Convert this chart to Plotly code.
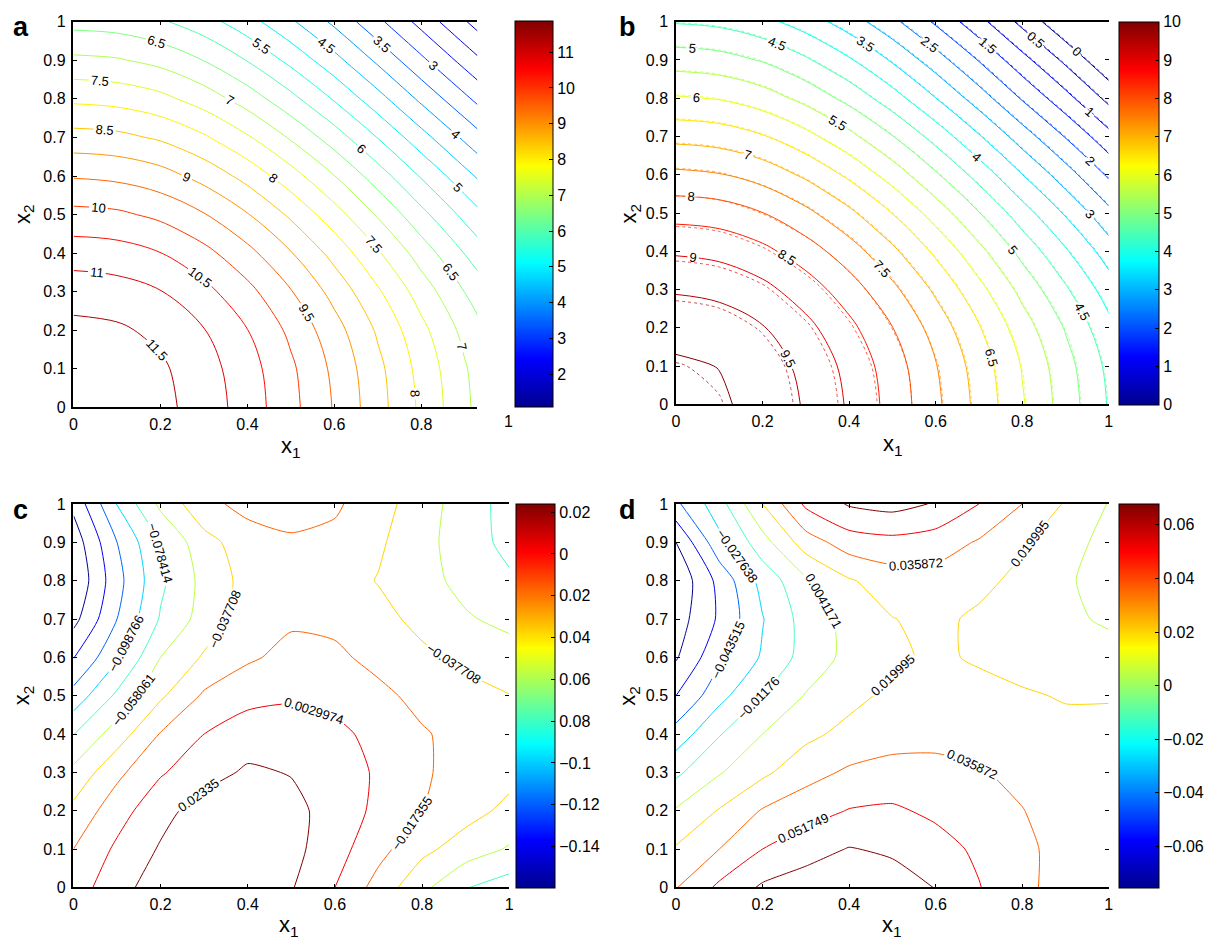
import plotly.graph_objects as go

W, H = 1220, 949
FONT = "Liberation Sans, Arial, Helvetica, sans-serif"

# ---------------------------------------------------------------- data
# sample nodes on the unit square (columns: x1, rows: x2)
x1_nodes = [0.0, 0.1, 0.2, 0.3, 0.4, 0.5, 0.6, 0.7, 0.8, 0.9, 1.0]
x2_nodes = [0.0, 0.1, 0.2, 0.3, 0.4, 0.5, 0.6, 0.7, 0.8, 0.9, 1.0]

z_a = [
    [11.90, 11.84, 11.64, 11.28, 10.77, 10.15, 9.46, 8.69, 7.90, 7.11, 6.33],
    [11.84, 11.77, 11.58, 11.21, 10.71, 10.09, 9.39, 8.63, 7.83, 7.05, 6.27],
    [11.64, 11.58, 11.38, 11.02, 10.51, 9.89, 9.20, 8.43, 7.64, 6.85, 6.07],
    [11.28, 11.21, 11.02, 10.65, 10.15, 9.53, 8.83, 8.07, 7.27, 6.49, 5.71],
    [10.77, 10.71, 10.51, 10.15, 9.65, 9.03, 8.33, 7.56, 6.77, 5.98, 5.20],
    [10.15, 10.09, 9.89, 9.53, 9.03, 8.41, 7.71, 6.94, 6.15, 5.36, 4.58],
    [9.46, 9.39, 9.20, 8.83, 8.33, 7.71, 7.01, 6.25, 5.45, 4.67, 3.89],
    [8.69, 8.63, 8.43, 8.07, 7.56, 6.94, 6.25, 5.48, 4.69, 3.90, 3.12],
    [7.90, 7.83, 7.64, 7.27, 6.77, 6.15, 5.45, 4.69, 3.89, 3.11, 2.33],
    [7.11, 7.05, 6.85, 6.49, 5.98, 5.36, 4.67, 3.90, 3.11, 2.32, 1.54],
    [6.33, 6.27, 6.07, 5.71, 5.20, 4.58, 3.89, 3.12, 2.33, 1.54, 0.76],
]

z_b = [
    [10.15, 10.07, 9.84, 9.45, 8.94, 8.32, 7.61, 6.85, 6.05, 5.27, 4.46],
    [10.07, 9.99, 9.76, 9.37, 8.86, 8.25, 7.53, 6.77, 5.97, 5.19, 4.38],
    [9.84, 9.76, 9.53, 9.14, 8.63, 8.01, 7.30, 6.54, 5.74, 4.96, 4.15],
    [9.45, 9.37, 9.14, 8.75, 8.24, 7.62, 6.91, 6.15, 5.35, 4.57, 3.76],
    [8.94, 8.86, 8.63, 8.24, 7.73, 7.11, 6.40, 5.64, 4.84, 4.06, 3.25],
    [8.32, 8.25, 8.01, 7.62, 7.11, 6.49, 5.78, 5.02, 4.22, 3.44, 2.63],
    [7.61, 7.53, 7.30, 6.91, 6.40, 5.78, 5.07, 4.31, 3.51, 2.73, 1.92],
    [6.85, 6.77, 6.54, 6.15, 5.64, 5.02, 4.31, 3.55, 2.75, 1.97, 1.16],
    [6.05, 5.97, 5.74, 5.35, 4.84, 4.22, 3.51, 2.75, 1.95, 1.17, 0.36],
    [5.27, 5.19, 4.96, 4.57, 4.06, 3.44, 2.73, 1.97, 1.17, 0.39, -0.42],
    [4.46, 4.38, 4.15, 3.76, 3.25, 2.63, 1.92, 1.16, 0.36, -0.42, -1.23],
]

# companion field of panel b, drawn dotted
z_b_ref = [
    [10.10, 10.02, 9.79, 9.38, 8.87, 8.30, 7.63, 6.87, 6.07, 5.29, 4.48],
    [10.02, 9.94, 9.71, 9.30, 8.79, 8.23, 7.55, 6.79, 5.99, 5.21, 4.40],
    [9.79, 9.71, 9.46, 9.07, 8.56, 7.99, 7.32, 6.56, 5.76, 4.98, 4.17],
    [9.38, 9.30, 9.07, 8.68, 8.22, 7.64, 6.93, 6.17, 5.37, 4.59, 3.78],
    [8.87, 8.79, 8.56, 8.22, 7.75, 7.13, 6.42, 5.66, 4.86, 4.08, 3.27],
    [8.30, 8.23, 7.99, 7.64, 7.13, 6.51, 5.80, 5.04, 4.24, 3.46, 2.65],
    [7.63, 7.55, 7.32, 6.93, 6.42, 5.80, 5.09, 4.33, 3.53, 2.75, 1.94],
    [6.87, 6.79, 6.56, 6.17, 5.66, 5.04, 4.33, 3.57, 2.77, 1.99, 1.18],
    [6.07, 5.99, 5.76, 5.37, 4.86, 4.24, 3.53, 2.77, 1.97, 1.19, 0.38],
    [5.29, 5.21, 4.98, 4.59, 4.08, 3.46, 2.75, 1.99, 1.19, 0.41, -0.40],
    [4.48, 4.40, 4.17, 3.78, 3.27, 2.65, 1.94, 1.18, 0.38, -0.40, -1.21],
]

z_c = [
    [-0.00514, 0.01318, 0.03760, 0.04066, 0.03760, 0.02478, 0.00300, -0.02529, -0.05297, -0.07739, -0.08858],
    [-0.01735, 0.00667, 0.02539, 0.03557, 0.03557, 0.02946, 0.01115, -0.01063, -0.03241, -0.04747, -0.06009],
    [-0.03221, -0.00554, 0.01664, 0.03252, 0.03353, 0.02946, 0.01461, -0.00168, -0.01725, -0.03017, -0.04279],
    [-0.05276, -0.02223, 0.00097, 0.01522, 0.02641, 0.02234, 0.01216, 0.00056, -0.01531, -0.02346, -0.03160],
    [-0.07902, -0.04808, -0.01613, 0.00300, 0.01318, 0.01420, 0.00911, -0.00453, -0.01531, -0.02447, -0.02956],
    [-0.11179, -0.07434, -0.04096, -0.01430, -0.00310, -0.00005, -0.00514, -0.01226, -0.02346, -0.03160, -0.03709],
    [-0.14049, -0.10161, -0.05806, -0.03526, -0.02040, -0.01124, -0.01328, -0.02346, -0.03363, -0.04177, -0.04991],
    [-0.16633, -0.11911, -0.07637, -0.04951, -0.02753, -0.02040, -0.02244, -0.03160, -0.04320, -0.05602, -0.06314],
    [-0.17814, -0.12603, -0.08248, -0.05154, -0.03058, -0.02651, -0.02854, -0.03872, -0.05154, -0.06375, -0.07535],
    [-0.17163, -0.11911, -0.07739, -0.04503, -0.02651, -0.02040, -0.02244, -0.03465, -0.05154, -0.06843, -0.08431],
    [-0.15473, -0.09774, -0.05337, -0.02284, -0.01124, -0.00819, -0.01430, -0.02936, -0.04890, -0.06803, -0.08614],
]

z_d = [
    [0.03508, 0.05492, 0.07001, 0.07556, 0.07715, 0.07477, 0.06715, 0.05254, 0.03825, 0.03190, 0.02793],
    [0.02158, 0.03587, 0.05175, 0.06127, 0.06842, 0.06524, 0.05810, 0.04873, 0.03889, 0.03111, 0.02714],
    [0.00570, 0.02110, 0.03714, 0.04492, 0.05254, 0.05413, 0.04857, 0.04301, 0.03635, 0.02873, 0.02555],
    [-0.01494, 0.00285, 0.01666, 0.03031, 0.03825, 0.04143, 0.04063, 0.03714, 0.03190, 0.02714, 0.02396],
    [-0.03717, -0.01287, 0.00412, 0.01602, 0.02476, 0.02952, 0.03111, 0.03031, 0.02793, 0.02476, 0.02317],
    [-0.05939, -0.03288, -0.01113, 0.00507, 0.01507, 0.02396, 0.02714, 0.02634, 0.02190, 0.01872, 0.01920],
    [-0.07686, -0.04669, -0.02573, -0.00541, 0.00856, 0.01682, 0.02317, 0.01761, 0.01364, 0.01126, 0.01047],
    [-0.08321, -0.05701, -0.02843, -0.00509, 0.00920, 0.01952, 0.02396, 0.01682, 0.01205, 0.00729, 0.00173],
    [-0.08797, -0.05463, -0.02192, 0.00142, 0.01841, 0.02793, 0.02952, 0.02476, 0.01523, 0.00618, -0.00224],
    [-0.07530, -0.03240, -0.00224, 0.02793, 0.04381, 0.04698, 0.04381, 0.03428, 0.02237, 0.00983, -0.00065],
    [-0.04669, -0.01811, 0.01999, 0.05492, 0.06921, 0.07318, 0.06635, 0.05175, 0.03587, 0.01841, 0.00332],
]

# contour levels: (first, last, step)
levels_a = (1.0, 12.0, 0.5)
levels_b = (0.0, 10.0, 0.5)
levels_c = (-0.15982452, 0.02335014, 0.02035274)
levels_d = (-0.0752702, 0.06762694, 0.01587746)

# colour-bar limits and ticks
cbar_range_a = (1.085, 11.88)
cbar_range_b = (0.0, 10.0)
cbar_range_c = (-0.1598, 0.0239)
cbar_range_d = (-0.0755, 0.0678)

cbar_ticks_a = [2, 3, 4, 5, 6, 7, 8, 9, 10, 11]
cbar_labels_a = ["2", "3", "4", "5", "6", "7", "8", "9", "10", "11"]
cbar_ticks_b = [0, 1, 2, 3, 4, 5, 6, 7, 8, 9, 10]
cbar_labels_b = ["0", "1", "2", "3", "4", "5", "6", "7", "8", "9", "10"]
cbar_ticks_c = [0.02, 0.0, -0.02, -0.04, -0.06, -0.08, -0.10, -0.12, -0.14]
cbar_labels_c = ["0.02", "0", "0.02", "0.04", "0.06", "0.08", "\u22120.1", "\u22120.12", "\u22120.14"]
cbar_ticks_d = [0.06, 0.04, 0.02, 0.0, -0.02, -0.04, -0.06]
cbar_labels_d = ["0.06", "0.04", "0.02", "0", "\u22120.02", "\u22120.04", "\u22120.06"]

x1_ticks = [0, 0.2, 0.4, 0.6, 0.8, 1.0]
x1_labels = ["0", "0.2", "0.4", "0.6", "0.8", "1"]
x2_ticks = [0, 0.1, 0.2, 0.3, 0.4, 0.5, 0.6, 0.7, 0.8, 0.9, 1.0]
x2_labels = ["0", "0.1", "0.2", "0.3", "0.4", "0.5", "0.6", "0.7", "0.8", "0.9", "1"]

panel_letters = ["a", "b", "c", "d"]

# ---------------------------------------------------------------- style
JET = [
    [0.0, "rgb(0,0,143)"],
    [0.125, "rgb(0,0,255)"],
    [0.375, "rgb(0,255,255)"],
    [0.625, "rgb(255,255,0)"],
    [0.875, "rgb(255,0,0)"],
    [1.0, "rgb(128,0,0)"],
]

panels = [
    dict(z=z_a, z_ref=None, levels=levels_a, fmt=".3~g", smooth=1.0, cr=cbar_range_a,
         ct=cbar_ticks_a, cl=cbar_labels_a,
         box=(70, 477, 14, 406.7), xr=(0, 0.929), cb=(515, 553, 13, 406),
         right_ticks=False, letter_xy=(17, 19), xt_xy=(289, 447), yt_xy=(20, 210)),
    dict(z=z_b, z_ref=z_b_ref, levels=levels_b, fmt=".3~g", smooth=1.0, cr=cbar_range_b,
         ct=cbar_ticks_b, cl=cbar_labels_b,
         box=(677, 1113, 14, 403.5), xr=(0, 1), cb=(1123, 1163, 14, 404),
         right_ticks=True, letter_xy=(628, 19), xt_xy=(896, 445), yt_xy=(631, 209)),
    dict(z=z_c, z_ref=None, levels=levels_c, fmt=".5~g", smooth=0.6, cr=cbar_range_c,
         ct=cbar_ticks_c, cl=cbar_labels_c,
         box=(70, 509, 505, 895.5), xr=(0, 1), cb=(516, 555, 505, 895.5),
         right_ticks=True, letter_xy=(17, 511), xt_xy=(287, 935), yt_xy=(20, 700)),
    dict(z=z_d, z_ref=None, levels=levels_d, fmt=".5~g", smooth=0.6, cr=cbar_range_d,
         ct=cbar_ticks_d, cl=cbar_labels_d,
         box=(677, 1113, 505, 895.5), xr=(0, 1), cb=(1123, 1163, 505, 895.5),
         right_ticks=True, letter_xy=(628, 511), xt_xy=(895, 935), yt_xy=(630, 700)),
]

tick_font = dict(family=FONT, size=16, color="black")

fig = go.Figure()
layout = dict(
    width=W, height=H, margin=dict(l=0, r=0, t=0, b=0),
    paper_bgcolor="white", plot_bgcolor="white", showlegend=False,
    font=dict(family=FONT, color="black"), annotations=[],
)

for i, p in enumerate(panels, start=1):
    sfx = "" if i == 1 else str(i)
    xa, ya = "x" + sfx, "y" + sfx
    x0, x1, ytop, ybot = p["box"]
    start, end, size = p["levels"]

    if p["z_ref"] is not None:
        fig.add_trace(go.Contour(
            x=x1_nodes, y=x2_nodes, z=p["z_ref"], xaxis=xa, yaxis=ya,
            autocontour=False,
            contours=dict(start=start, end=end, size=size, coloring="lines",
                          showlabels=False),
            colorscale=JET, showscale=False, opacity=0.7,
            line=dict(width=1, dash="dot", smoothing=p["smooth"]),
            hoverinfo="skip",
        ))

    fig.add_trace(go.Contour(
        x=x1_nodes, y=x2_nodes, z=p["z"], xaxis=xa, yaxis=ya,
        autocontour=False,
        contours=dict(start=start, end=end, size=size, coloring="lines",
                      showlabels=True, labelformat=p["fmt"],
                      labelfont=dict(family=FONT, size=13, color="black")),
        colorscale=JET, showscale=False,
        line=dict(width=1, smoothing=p["smooth"]),
        hoverinfo="skip",
    ))

    # continuous colour bar carried by an invisible marker
    cb_axis = ya
    if p["right_ticks"]:
        cb_axis = "y" + str(i + 4)
        layout["yaxis" + str(i + 4)] = dict(
            overlaying=ya, side="right", anchor=xa, range=[0, 1],
            tickvals=x2_ticks, ticks="inside", ticklen=4, tickcolor="black",
            showticklabels=False, showline=False, showgrid=False,
            zeroline=False, fixedrange=True)
    cx0, cx1, cy0, cy1 = p["cb"]
    cmin, cmax = p["cr"]
    fig.add_trace(go.Scatter(
        x=[0.5], y=[0.5], xaxis=xa, yaxis=cb_axis, mode="markers",
        hoverinfo="skip", showlegend=False,
        marker=dict(size=1, opacity=0, color=[cmin], colorscale=JET,
                    cmin=cmin, cmax=cmax, showscale=True,
                    colorbar=dict(
                        x=cx0 / W, xanchor="left", y=1 - cy0 / H, yanchor="top",
                        len=(cy1 - cy0) / H, lenmode="fraction",
                        thickness=cx1 - cx0, thicknessmode="pixels",
                        xpad=0, ypad=0, outlinewidth=1, outlinecolor="black",
                        ticks="inside", ticklen=4, tickcolor="black",
                        tickvals=p["ct"], ticktext=p["cl"], tickfont=tick_font)),
    ))

    xt = [t for t in x1_ticks if t <= p["xr"][1]]
    layout["xaxis" + sfx] = dict(
        domain=[x0 / W, x1 / W], range=list(p["xr"]), anchor=ya,
        tickvals=xt, ticktext=[x1_labels[x1_ticks.index(t)] for t in xt],
        ticks="inside", ticklen=4, tickcolor="black", ticklabelstandoff=2,
        showline=True, linecolor="black", linewidth=1.5, mirror="ticks",
        showgrid=False, zeroline=False, tickfont=tick_font, fixedrange=True)
    layout["yaxis" + sfx] = dict(
        domain=[1 - ybot / H, 1 - ytop / H], range=[0, 1], anchor=xa,
        tickvals=x2_ticks, ticktext=x2_labels,
        ticks="inside", ticklen=4, tickcolor="black", ticklabelstandoff=3,
        showline=True, linecolor="black", linewidth=1.5, mirror=False,
        showgrid=False, zeroline=False, tickfont=tick_font, fixedrange=True)

    lx, ly = p["letter_xy"]
    layout["annotations"].append(dict(
        text="<b>" + panel_letters[i - 1] + "</b>", x=lx / W, y=1 - ly / H,
        xref="paper", yref="paper", xanchor="center", yanchor="middle",
        showarrow=False, font=dict(family=FONT, size=27, color="black")))
    tx, ty = p["xt_xy"]
    layout["annotations"].append(dict(
        text="x<sub>1</sub>", x=tx / W, y=1 - ty / H, xref="paper", yref="paper",
        xanchor="center", yanchor="middle", showarrow=False,
        font=dict(family=FONT, size=22, color="black")))
    vx, vy = p["yt_xy"]
    layout["annotations"].append(dict(
        text="x<sub>2</sub>", x=vx / W, y=1 - vy / H, xref="paper", yref="paper",
        xanchor="center", yanchor="middle", textangle=-90, showarrow=False,
        font=dict(family=FONT, size=22, color="black")))

# the first panel's x1 axis is cut short by its colour bar; its "1" label stays
layout["annotations"].append(dict(
    text="1", x=508 / W, y=1 - 421 / H, xref="paper", yref="paper",
    xanchor="center", yanchor="middle", showarrow=False, font=tick_font))

fig.update_layout(**layout)
fig.write_html("out.html")
